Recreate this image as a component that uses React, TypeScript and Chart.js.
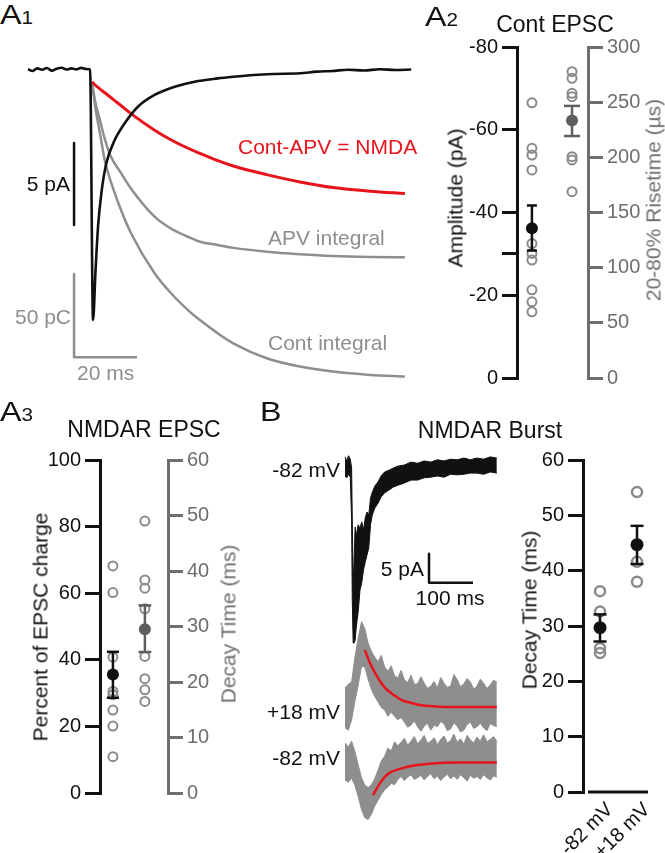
import React, { useEffect, useRef } from "react";
import { Chart, registerables } from "chart.js";

Chart.register(...registerables);

const FONT = '"Liberation Sans", Arial, Helvetica, sans-serif';
Chart.defaults.font.family = FONT;

const BLACK = "#111111";
const RED = "#e8141c";
const TRACE_GRAY = "#8e8e8e";
const AXIS_GRAY = "#6e6e6e";
const DOT_GRAY = "#8a8a8a";
const MEAN_GRAY = "#5e5e5e";

// ---------------- A1: control EPSC and charge integrals ----------------
const a1CurrentTime = [-19.7, -18.3, -16.8, -15.2, -13.7, -12.1, -10.6, -9.0, -7.5, -5.9, -4.4, -2.8, -1.3, 0,
  0.95, 1.75, 2.54, 3.59, 5.17, 7.84, 11.0, 15.2, 20.5, 26.9, 33.2, 40.6, 45.5, 52, 58, 66.7,
  72, 77, 82, 87, 92, 97, 102];
const a1CurrentPA = [0.05, -0.06, 0.1, 0.02, 0.12, -0.04, 0.08, 0.14, 0.03, 0.1, 0.04, 0.13, 0.06, 0.05,
  -15.24, -12.2, -9.55, -7.52, -5.69, -4.27, -3.25, -2.24, -1.52, -1.02, -0.71, -0.51, -0.41, -0.3, -0.24, -0.2,
  -0.1, -0.06, 0.02, -0.03, 0.05, 0.0, 0.03];
const a1ChargeTime = [0.6, 1.6, 3.2, 4.7, 6.5, 9.9, 13.1, 20.5, 25.8, 31.1, 34.9, 40.6, 45.5, 56.1, 66.7, 77.2, 88.9, 100];
const a1ContCharge = [-0.6, -15, -32, -48, -60, -78, -92, -115.8, -128, -138, -144, -152, -158, -167, -172, -175, -177, -178];
const a1ApvCharge = [-0.6, -12, -24, -35, -45, -55.6, -65, -81.7, -89, -93.8, -96.8, -98.8, -100.5, -102.8, -104.3, -105.4, -106, -106.2];
const a1NmdaCharge = [-0.4, -2.4, -4.9, -7.1, -9.8, -14.9, -19.8, -29.6, -35.5, -40.5, -43.6, -48.0, -51.2, -56.4, -60.8, -64.2, -66.4, -67.8];
// scale bars: 5 pA (current axis), 50 pC x 20 ms (charge axis)
const a1CurrentBar = [[-5.08, -4.45], [-5.08, -9.45]];
const a1ChargeBar = [[-5.08, -116.3], [-5.08, -166.3], [14.92, -166.3]];

// ---------------- A2: Cont EPSC ----------------
const a2Amplitude = [-66.5, -55.5, -53.9, -50.3, -32.5, -30.1, -28.5, -21.3, -18.4, -16.0];
const a2AmplitudeMean = -36.2;
const a2AmplitudeErr = [-41.7, -30.8];
const a2Risetime = [277.6, 271.6, 258, 255, 200.6, 197.6, 168.9];
const a2RisetimeMean = 233.3;
const a2RisetimeErr = [219.3, 246.6];
const a2AmplitudeTicks = [-80, -60, -40, -30, -20, 0];
const a2AmplitudeTickLabels = ["-80", "-60", "-40", "", "-20", "0"];

// ---------------- A3: NMDAR EPSC ----------------
const a3Percent = [68.2, 60.2, 40.8, 30.5, 29.5, 24.9, 20.1, 10.9];
const a3PercentMean = 35.6;
const a3PercentErr = [28.6, 42.4];
const a3Decay = [49, 38.4, 36.9, 33.2, 24.6, 20.6, 18.6, 16.5];
const a3DecayMean = 29.5;
const a3DecayErr = [25.4, 33.8];

// ---------------- B: NMDAR burst traces ----------------
const bTopTime = [0, 4, 8, 12, 15, 16.5, 18.5, 20.5, 23, 26, 30, 34, 38, 42, 46, 50, 54, 58, 62, 68, 75, 82, 90,
  100, 110, 120, 135, 150, 165, 180, 195, 210, 225, 240, 255, 270, 285, 300, 315, 330, 345];
const bTopUpper = [1.4, 0.7, 1.6, 1.0, -0.5, -9.5, -21.6, -16.4, -10.7, -12.1, -10.3, -10.9, -9.8, -11.2, -9.1,
  -8.1, -8.6, -5.7, -4.7, -3.6, -2.9, -1.9, -1.2, -0.9, -0.5, -0.2, 0, 0.5, 0.3, 0.7, 0.5, 0.9, 0.7, 1.0, 0.9,
  1.2, 0.9, 1.2, 1.0, 1.4, 1.2];
const bTopLower = [-1.9, -2.2, -1.6, -2.1, -9.5, -23.3, -30.7, -30.7, -30.2, -27.6, -25.3, -21.6, -20.3, -18.1,
  -16.7, -15.5, -14.3, -10.3, -8.6, -7.4, -6.6, -5.5, -4.8, -4.3, -3.8, -3.5, -3.1, -2.6, -2.6, -2.2, -2.1, -1.9,
  -2.1, -1.6, -1.7, -1.6, -1.4, -1.4, -1.6, -1.2, -1.4];
const bGrayTime = [0, 7.5, 15, 22.5, 30, 37.5, 45, 52.5, 60, 67.5, 75, 82.5, 90, 97.5, 105, 112.5, 120, 127.5,
  135, 142.5, 150, 157.5, 165, 172.5, 180, 187.5, 195, 202.5, 210, 217.5, 225, 232.5, 240, 247.5, 255, 262.5,
  270, 277.5, 285, 292.5, 300, 307.5, 315, 322.5, 330, 337.5, 345];
const bP18Upper = [3.3, 3.9, 4.3, 8.6, 11.9, 14.7, 13.5, 11.0, 9.6, 8.6, 7.8, 8.9, 6.9, 6.2, 7.1, 5.4, 5.0, 6.3,
  4.7, 4.2, 5.5, 3.9, 4.0, 5.2, 4.1, 3.2, 3.6, 4.4, 3.3, 5.1, 4.1, 3.4, 3.6, 5.6, 4.7, 3.5, 4.0, 4.9, 4.3, 3.1,
  3.6, 4.8, 4.1, 3.2, 3.8, 4.6, 4.3];
const bP18Lower = [-3.6, -4.0, -2.2, 1.0, 3.8, 7.0, 6.9, 4.8, 3.0, 1.8, 0.9, -0.1, -0.5, -1.6, -0.9, -1.6, -2.2,
  -1.8, -2.6, -3.5, -3.1, -2.4, -3.4, -4.2, -3.3, -2.8, -4.0, -3.1, -3.4, -2.5, -2.9, -4.1, -3.8, -2.7, -3.3,
  -4.3, -4.0, -3.0, -2.6, -3.7, -3.4, -2.8, -3.6, -4.1, -2.9, -3.2, -3.4];
const bM82Upper = [3.3, 2.6, 3.6, 1.8, -0.5, -2.7, -4.0, -4.4, -3.9, -2.9, -1.4, 0.2, 1.0, 2.4, 1.9, 3.5, 2.8,
  3.4, 4.1, 2.9, 3.6, 4.4, 3.1, 3.8, 4.6, 3.2, 3.6, 4.2, 3.0, 3.9, 4.5, 3.3, 3.7, 4.8, 3.4, 4.0, 3.1, 4.6, 3.8,
  3.3, 4.3, 3.6, 4.7, 3.5, 3.9, 4.4, 3.6];
const bM82Lower = [-3.1, -3.5, -2.8, -4.0, -6.0, -8.2, -9.6, -9.9, -9.0, -7.6, -6.6, -5.6, -4.8, -4.3, -3.7,
  -3.9, -3.0, -2.5, -3.2, -2.6, -2.2, -3.0, -2.7, -2.3, -3.1, -2.5, -2.0, -2.9, -2.4, -3.2, -2.6, -2.1, -2.9,
  -2.4, -3.0, -2.2, -2.7, -3.3, -2.3, -2.8, -2.5, -3.0, -2.2, -2.7, -3.1, -2.4, -2.6];
const bFitP18Time = [45, 55, 68, 80, 91, 110, 129, 150, 166, 205, 250, 300, 345];
const bFitP18 = [9.8, 7.9, 5.9, 4.4, 3.3, 2.1, 1.2, 0.7, 0.4, 0.1, 0, 0, 0];
const bFitM82Time = [64, 72, 80, 91, 105, 129, 150, 166, 205, 250, 300, 345];
const bFitM82 = [-5.7, -4.6, -3.6, -2.5, -1.7, -1.1, -0.7, -0.5, -0.2, -0.1, -0.1, -0.1];
const bScaleBar = [[190.9, -15.3], [190.9, -20.3], [290.9, -20.3]];

// ---------------- B: decay time scatter ----------------
const bCategories = ["-82 mV", "+18 mV"];
const bDecayM82 = [36.3, 32.6, 26.0, 25.1];
const bDecayM82Mean = 29.7;
const bDecayM82Err = [27.2, 32.1];
const bDecayP18 = [54.2, 41.6, 38.0];
const bDecayP18Mean = 44.7;
const bDecayP18Err = [41.2, 48.1];

// ---------------- helpers ----------------
type Pt = { x: number; y: number };
const xy = (xs: number[], ys: number[]): Pt[] => xs.map((x, i) => ({ x, y: ys[i] }));
const pairs = (ps: number[][]): Pt[] => ps.map(([x, y]) => ({ x, y }));

function trace(data: Pt[], color: string, width: number, yAxisID: string, order: number, smooth = true) {
  return {
    data, showLine: true, borderColor: color, backgroundColor: color, borderWidth: width,
    pointRadius: 0, pointHoverRadius: 0, yAxisID, order, fill: false, tension: 0,
    cubicInterpolationMode: smooth ? "monotone" : "default", borderJoinStyle: "round",
  };
}

function band(time: number[], upper: number[], lower: number[], color: string, yAxisID: string, order: number) {
  const base = { showLine: true, borderColor: color, backgroundColor: color, borderWidth: 1, pointRadius: 0, yAxisID, order, tension: 0 };
  return [
    { ...base, data: xy(time, upper), fill: "+1" },
    { ...base, data: xy(time, lower), fill: false },
  ];
}

function errorBar(group: number, err: number[], cap: number, color: string, yAxisID: string) {
  const base = { showLine: true, borderColor: color, borderWidth: 2.5, pointRadius: 0, yAxisID, order: 1, tension: 0 };
  const [lo, hi] = err;
  return [
    { ...base, data: [{ x: group, y: lo }, { x: group, y: hi }] },
    { ...base, data: [{ x: group - cap, y: hi }, { x: group + cap, y: hi }] },
    { ...base, data: [{ x: group - cap, y: lo }, { x: group + cap, y: lo }] },
  ];
}

function dots(group: number, values: number[], color: string, yAxisID: string, r = 4.5, bw = 2) {
  return {
    data: values.map((v) => ({ x: group, y: v })), showLine: false, pointRadius: r, pointBorderWidth: bw,
    pointBorderColor: color, pointBackgroundColor: "rgba(0,0,0,0)", yAxisID, order: 2,
  };
}

function mean(group: number, value: number, color: string, yAxisID: string, r = 6) {
  return {
    data: [{ x: group, y: value }], showLine: false, pointRadius: r, pointBorderWidth: 0,
    pointBorderColor: color, pointBackgroundColor: color, yAxisID, order: 0,
  };
}

function yAxis(o: { position: string; min: number; max: number; step?: number; values?: number[]; labels?: string[]; color: string; width: number; reverse?: boolean }) {
  const cfg: any = {
    type: "linear", position: o.position, min: o.min, max: o.max, reverse: !!o.reverse,
    afterFit: (s: any) => { s.width = o.width; },
    ticks: {
      stepSize: o.step, color: o.color, font: { size: 20, family: FONT }, padding: 4, autoSkip: false,
      callback: (v: any) => (o.values && o.labels ? (o.labels[o.values.indexOf(v)] ?? "") : String(v)),
    },
    grid: { display: true, drawOnChartArea: false, drawTicks: true, tickLength: 15, lineWidth: 3, color: o.color },
    border: { display: true, width: 3, color: o.color },
  };
  if (o.values) cfg.afterBuildTicks = (s: any) => { s.ticks = o.values!.map((v) => ({ value: v })); };
  return cfg;
}

const hiddenLinear = (min: number, max: number) => ({ type: "linear", display: false, min, max });

const baseOptions = (padding: any) => ({
  responsive: false, maintainAspectRatio: false, animation: false, events: [],
  layout: { padding },
  plugins: { legend: { display: false }, tooltip: { enabled: false }, title: { display: false } },
});

const xAxisLinePlugin = {
  id: "xAxisLine",
  afterDraw(chart: any, _args: any, opts: any) {
    if (!opts || !opts.enabled) return;
    const { ctx, chartArea } = chart;
    ctx.save();
    ctx.strokeStyle = opts.color;
    ctx.lineWidth = opts.width;
    ctx.beginPath();
    ctx.moveTo(chartArea.left + opts.gapStart, chartArea.bottom);
    ctx.lineTo(chartArea.right - opts.gapEnd, chartArea.bottom);
    ctx.stroke();
    ctx.restore();
  },
};

// ---------------- chart configs ----------------
function makeA1(): any {
  return {
    type: "line",
    data: {
      datasets: [
        trace(xy(a1CurrentTime, a1CurrentPA), BLACK, 2.6, "yI", 0),
        trace(xy(a1ChargeTime, a1NmdaCharge), RED, 3, "yQ", 1),
        trace(xy(a1ChargeTime, a1ApvCharge), TRACE_GRAY, 2.5, "yQ", 2),
        trace(xy(a1ChargeTime, a1ContCharge), TRACE_GRAY, 2.5, "yQ", 2),
        trace(pairs(a1CurrentBar), BLACK, 2.5, "yI", 0, false),
        trace(pairs(a1ChargeBar), TRACE_GRAY, 2.5, "yQ", 0, false),
      ],
    },
    options: {
      ...baseOptions(0),
      scales: {
        x: hiddenLinear(-28.6, 104.8),
        yI: hiddenLinear(-19.51, 1.83),
        yQ: hiddenLinear(-186.1, 24.7),
      },
    },
  };
}

function makeA2(): any {
  return {
    type: "scatter",
    data: {
      datasets: [
        mean(0, a2AmplitudeMean, BLACK, "y"),
        ...errorBar(0, a2AmplitudeErr, 0.125, BLACK, "y"),
        dots(0, a2Amplitude, DOT_GRAY, "y"),
        mean(1, a2RisetimeMean, MEAN_GRAY, "y1"),
        ...errorBar(1, a2RisetimeErr, 0.2, MEAN_GRAY, "y1"),
        dots(1, a2Risetime, DOT_GRAY, "y1"),
      ],
    },
    options: {
      ...baseOptions({ left: 0, right: 0, top: 47, bottom: 22 }),
      scales: {
        x: hiddenLinear(-0.372, 1.398),
        y: yAxis({ position: "left", min: -80, max: 0, values: a2AmplitudeTicks, labels: a2AmplitudeTickLabels, color: BLACK, width: 117, reverse: true }),
        y1: yAxis({ position: "right", min: 0, max: 300, step: 50, color: AXIS_GRAY, width: 77 }),
      },
    },
  };
}

function makeA3(): any {
  return {
    type: "scatter",
    data: {
      datasets: [
        mean(0, a3PercentMean, BLACK, "y"),
        ...errorBar(0, a3PercentErr, 0.19, BLACK, "y"),
        dots(0, a3Percent, DOT_GRAY, "y"),
        mean(1, a3DecayMean, MEAN_GRAY, "y1"),
        ...errorBar(1, a3DecayErr, 0.2, MEAN_GRAY, "y1"),
        dots(1, a3Decay, DOT_GRAY, "y1"),
      ],
    },
    options: {
      ...baseOptions({ left: 0, right: 0, top: 20, bottom: 60 }),
      scales: {
        x: hiddenLinear(-0.404, 1.723),
        y: yAxis({ position: "left", min: 0, max: 100, step: 20, color: BLACK, width: 100 }),
        y1: yAxis({ position: "right", min: 0, max: 60, step: 10, color: AXIS_GRAY, width: 92 }),
      },
    },
  };
}

function makeBTraces(): any {
  return {
    type: "line",
    data: {
      datasets: [
        trace(xy(bFitP18Time, bFitP18), RED, 2.5, "yMid", 0),
        trace(xy(bFitM82Time, bFitM82), RED, 2.5, "yBot", 0),
        trace(pairs(bScaleBar), BLACK, 2.5, "yTop", 0, false),
        ...band(bTopTime, bTopUpper, bTopLower, BLACK, "yTop", 1),
        ...band(bGrayTime, bP18Upper, bP18Lower, TRACE_GRAY, "yMid", 2),
        ...band(bGrayTime, bM82Upper, bM82Lower, TRACE_GRAY, "yBot", 2),
      ],
    },
    options: {
      ...baseOptions(0),
      scales: {
        x: hiddenLinear(-11.4, 363.6),
        yTop: hiddenLinear(-62.93, 4.31),
        yMid: hiddenLinear(-21.21, 46.03),
        yBot: hiddenLinear(-11.72, 55.52),
      },
    },
  };
}

function makeBScatter(): any {
  return {
    type: "scatter",
    data: {
      datasets: [
        mean(0, bDecayM82Mean, BLACK, "y", 6.5),
        ...errorBar(0, bDecayM82Err, 0.176, BLACK, "y"),
        dots(0, bDecayM82, DOT_GRAY, "y", 5, 2.5),
        mean(1, bDecayP18Mean, BLACK, "y", 6.5),
        ...errorBar(1, bDecayP18Err, 0.176, BLACK, "y"),
        dots(1, bDecayP18, DOT_GRAY, "y", 5, 2.5),
      ],
    },
    plugins: [xAxisLinePlugin],
    options: {
      ...baseOptions({ left: 0, right: 14, top: 20, bottom: 0 }),
      plugins: {
        legend: { display: false }, tooltip: { enabled: false },
        xAxisLine: { enabled: true, color: BLACK, width: 3, gapStart: 5, gapEnd: 3 },
      },
      scales: {
        x: {
          type: "linear", min: -0.46, max: 1.378,
          afterFit: (s: any) => { s.height = 61; },
          afterBuildTicks: (s: any) => { s.ticks = bCategories.map((_, i) => ({ value: i })); },
          ticks: {
            autoSkip: false, minRotation: 45, maxRotation: 45, padding: 6, labelOffset: 10, color: BLACK,
            font: { size: 20, family: FONT },
            callback: (v: any) => bCategories[v] ?? "",
          },
          grid: { display: false, drawTicks: false },
          border: { display: false },
        },
        y: yAxis({ position: "left", min: 0, max: 60, step: 10, color: BLACK, width: 83 }),
      },
    },
  };
}

// ---------------- components ----------------
function ChartBox(props: { left: number; top: number; width: number; height: number; make: () => any }) {
  const ref = useRef<HTMLCanvasElement>(null);
  useEffect(() => {
    const chart = new Chart(ref.current as HTMLCanvasElement, props.make());
    return () => chart.destroy();
  }, []);
  return (
    <canvas
      ref={ref}
      width={props.width}
      height={props.height}
      style={{ position: "absolute", left: props.left, top: props.top, width: props.width, height: props.height }}
    />
  );
}

function Label(props: { x: number; y: number; children: any; size?: number; color?: string; align?: "left" | "right" | "center"; rotate?: boolean }) {
  const { x, y, children, size = 21, color = BLACK, align = "left", rotate = false } = props;
  const tx = align === "left" ? "0" : align === "right" ? "-100%" : "-50%";
  return (
    <div
      style={{
        position: "absolute", left: x, top: y, fontSize: size, lineHeight: 1, color, whiteSpace: "nowrap",
        transform: rotate ? "translate(-50%, -50%) rotate(-90deg)" : `translate(${tx}, -50%)`,
      }}
    >
      {children}
    </div>
  );
}

function Letter(props: { x: number; y: number; main: string; sub?: string }) {
  return (
    <div
      style={{
        position: "absolute", left: props.x, top: props.y, fontSize: 28, lineHeight: 1, color: BLACK,
        transform: "scaleX(1.15)", transformOrigin: "left top", whiteSpace: "nowrap",
      }}
    >
      {props.main}
      {props.sub ? <span style={{ fontSize: 18 }}>{props.sub}</span> : null}
    </div>
  );
}

export default function App() {
  return (
    <div
      style={{
        position: "absolute", left: 0, top: 0, width: 665, height: 853, background: "#ffffff",
        overflow: "hidden", fontFamily: FONT,
      }}
    >
      <ChartBox left={0} top={40} width={420} height={350} make={makeA1} />
      <ChartBox left={400} top={0} width={265} height={400} make={makeA2} />
      <ChartBox left={0} top={440} width={260} height={413} make={makeA3} />
      <ChartBox left={340} top={440} width={165} height={390} make={makeBTraces} />
      <ChartBox left={500} top={440} width={165} height={413} make={makeBScatter} />

      {/* A1 */}
      <Letter x={0} y={1} main="A" sub="1" />
      <Label x={70} y={183} align="right">5 pA</Label>
      <Label x={71} y={316} align="right" color={TRACE_GRAY}>50 pC</Label>
      <Label x={77} y={372} color={TRACE_GRAY}>20 ms</Label>
      <Label x={238} y={146} color={RED}>Cont-APV = NMDA</Label>
      <Label x={268} y={237} color={TRACE_GRAY}>APV integral</Label>
      <Label x={268} y={342} color={TRACE_GRAY}>Cont integral</Label>

      {/* A2 */}
      <Letter x={425} y={3} main="A" sub="2" />
      <Label x={555} y={23.5} size={23} align="center">Cont EPSC</Label>
      <Label x={455} y={198} rotate>Amplitude (pA)</Label>
      <Label x={653} y={200} rotate color={AXIS_GRAY}>20-80% Risetime (µs)</Label>

      {/* A3 */}
      <Letter x={0} y={398} main="A" sub="3" />
      <Label x={144} y={428.5} size={23} align="center">NMDAR EPSC</Label>
      <Label x={40} y={627} rotate>Percent of EPSC charge</Label>
      <Label x={228} y={623.5} rotate color={AXIS_GRAY}>Decay Time (ms)</Label>

      {/* B */}
      <Letter x={260} y={398} main="B" />
      <Label x={490} y={430} size={23} align="center">NMDAR Burst</Label>
      <Label x={340} y={469} align="right">-82 mV</Label>
      <Label x={340} y={711} align="right">+18 mV</Label>
      <Label x={340} y={757} align="right">-82 mV</Label>
      <Label x={424} y={568} align="right">5 pA</Label>
      <Label x={450} y={597} align="center">100 ms</Label>
      <Label x={529} y={609.5} rotate>Decay Time (ms)</Label>
    </div>
  );
}
